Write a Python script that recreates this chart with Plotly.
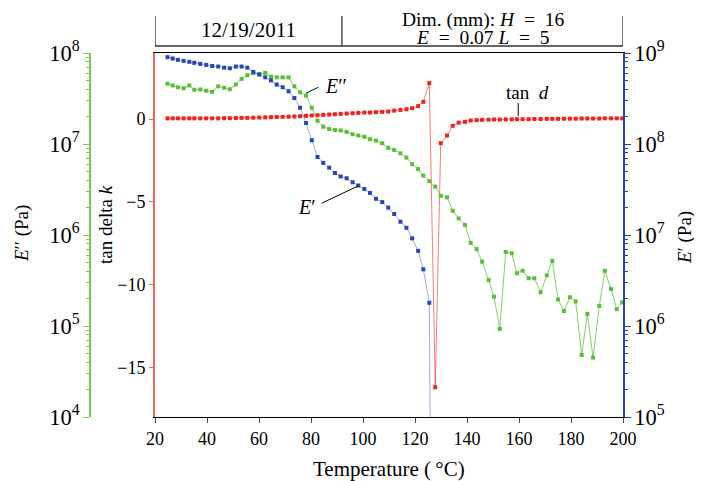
import plotly.graph_objects as go

# Temperature (deg C) of each measurement
temp = [24.8, 26.8, 28.8, 31.0, 33.2, 35.1, 37.4, 39.7, 42.0, 44.3,
        46.6, 48.8, 51.1, 53.3, 55.5, 57.8, 60.1, 62.4, 64.6, 66.8,
        69.1, 71.4, 73.6, 75.8, 78.1, 80.3, 82.5, 84.7, 87.0, 89.2,
        91.4, 93.7, 96.0, 98.2, 100.5, 102.7, 105.0, 107.4, 109.7, 112.0,
        114.4, 116.7, 118.9, 121.2, 123.2, 125.5, 127.8, 129.9, 132.3, 134.5,
        136.8, 139.2, 141.4, 143.7, 145.8, 148.3, 150.4, 152.6, 154.9, 157.2,
        159.2, 161.4, 163.7, 165.9, 168.3, 170.7, 172.8, 175.0, 177.3, 179.6,
        181.8, 184.1, 186.3, 188.5, 190.9, 193.0, 195.4, 197.6, 199.7]

# E' (Pa), right axis
storage_modulus = [9.0e8, 8.7e8, 8.4e8, 8.2e8, 8.0e8, 7.8e8, 7.6e8, 7.4e8, 7.2e8, 7.1e8,
                   6.9e8, 6.8e8, 7.1e8, 7.1e8, 6.9e8, 6.2e8, 5.8e8, 5.4e8, 5.0e8, 4.5e8,
                   4.2e8, 3.8e8, 3.2e8, 2.5e8, 1.7e8, 1.1e8, 7.2e7, 6.2e7, 5.5e7, 4.8e7,
                   4.4e7, 4.2e7, 3.8e7, 3.5e7, 3.2e7, 2.9e7, 2.5e7, 2.3e7, 2.0e7, 1.7e7,
                   1.4e7, 1.2e7, 9.2e6, 6.7e6, 4.2e6, 1.8e6, 1e-3]

# E'' (Pa), left outer axis
loss_modulus = [4.6e7, 4.4e7, 4.2e7, 4.1e7, 4.4e7, 3.95e7, 3.97e7, 3.85e7, 3.75e7, 4.3e7,
                4.15e7, 4.0e7, 4.5e7, 5.2e7, 5.7e7, 6.0e7, 5.9e7, 6.05e7, 5.5e7, 5.4e7,
                5.4e7, 5.4e7, 4.3e7, 3.7e7, 3.4e7, 2.5e7, 1.8e7, 1.55e7, 1.46e7, 1.43e7,
                1.41e7, 1.36e7, 1.28e7, 1.24e7, 1.20e7, 1.13e7, 1.09e7, 1.02e7, 9.1e6, 8.6e6,
                7.9e6, 7.1e6, 6.0e6, 5.3e6, 4.5e6, 3.9e6, 3.4e6, 2.7e6, 2.6e6, 1.85e6,
                1.52e6, 1.29e6, 8.2e5, 7.0e5, 5.1e5, 3.2e5, 2.1e5, 9.3e4, 6.5e5, 6.3e5,
                3.8e5, 4.05e5, 3.35e5, 3.35e5, 2.35e5, 3.6e5, 5.2e5, 1.96e5, 1.46e5, 2.07e5,
                1.86e5, 4.8e4, 1.36e5, 4.5e4, 1.66e5, 4.05e5, 2.55e5, 1.53e5, 1.82e5]

# tan delta, inner left axis
tan_delta = [0.05, 0.05, 0.05, 0.05, 0.05, 0.05, 0.05, 0.05, 0.05, 0.05,
             0.06, 0.06, 0.07, 0.08, 0.08, 0.09, 0.10, 0.11, 0.12, 0.13,
             0.14, 0.15, 0.16, 0.18, 0.20, 0.22, 0.24, 0.26, 0.28, 0.30,
             0.32, 0.34, 0.36, 0.38, 0.40, 0.40, 0.42, 0.44, 0.46, 0.52,
             0.56, 0.60, 0.66, 0.79, 1.05, 2.18, -16.2, -1.45, -0.99, -0.40,
             -0.21, -0.16, -0.08, -0.06, -0.04, -0.03, -0.02, -0.02, -0.01, -0.01,
             0.0, 0.0, 0.0, 0.01, 0.01, 0.02, 0.02, 0.02, 0.03, 0.03,
             0.03, 0.04, 0.04, 0.04, 0.04, 0.05, 0.05, 0.05, 0.05]

x_ticks = [20, 40, 60, 80, 100, 120, 140, 160, 180, 200]
tan_ticks = [0, -5, -10, -15]

FONT = "Liberation Serif"
BLUE = "#2b45b4"
GREEN = "#5cbc3c"
RED = "#ee2424"
GREEN_AX = "#7cc75a"
RED_AX = "#f26464"
BLUE_AX = "#2c40a8"

# the page body adds an 8px offset; positions below are in page pixels minus 8
FW, FH = 694, 473
ML, MR, MT, MB = 52, 79, 45, 64
W = FW - ML - MR           # 563
H = FH - MT - MB           # 364
X0 = (147 - ML) / W        # plot area starts at page x = 155
GREEN_POS = (82 - ML) / W  # green axis at page x = 90


def py(page_y):
    return (FH - MB - (page_y - 8)) / H


def px(page_x):
    return (page_x - 8 - ML) / W


fig = go.Figure()
fig.add_trace(go.Scatter(
    x=temp[:len(loss_modulus)], y=loss_modulus, yaxis="y2", mode="lines+markers",
    marker=dict(symbol="square", size=4, color=GREEN),
    line=dict(color="rgba(92,188,60,0.75)", width=1)))
fig.add_trace(go.Scatter(
    x=temp[:len(storage_modulus)], y=storage_modulus, yaxis="y3", mode="lines+markers",
    marker=dict(symbol="square", size=4, color=BLUE),
    line=dict(color="rgba(43,69,180,0.45)", width=1)))
fig.add_trace(go.Scatter(
    x=temp[:len(tan_delta)], y=tan_delta, yaxis="y", mode="lines+markers",
    marker=dict(symbol="square", size=4, color=RED),
    line=dict(color="rgba(238,36,36,0.6)", width=1)))

tickfont = dict(family=FONT, size=18, color="black")

fig.update_layout(
    width=FW, height=FH,
    margin=dict(l=ML, r=MR, t=MT, b=MB),
    paper_bgcolor="white", plot_bgcolor="white",
    showlegend=False,
    font=dict(family=FONT, size=18, color="black"),
    xaxis=dict(domain=[X0, 1], range=[20, 200], tickvals=x_ticks,
               ticks="outside", ticklen=5, tickcolor="#444",
               showline=True, linecolor="black", linewidth=1.2, mirror=True,
               showgrid=False, zeroline=False, tickfont=tickfont),
    yaxis=dict(range=[-18, 4], tickvals=tan_ticks, ticks="outside", ticklen=4,
               tickcolor=RED_AX, showline=True, linecolor=RED_AX, linewidth=2,
               showgrid=False, zeroline=False, tickfont=tickfont),
    yaxis2=dict(type="log", range=[4, 8], dtick=1, exponentformat="power",
                overlaying="y", anchor="free", position=GREEN_POS, side="left",
                ticks="outside", ticklen=6, tickcolor=GREEN_AX,
                showline=True, linecolor=GREEN_AX, linewidth=1.5,
                minor=dict(dtick="D1", ticks="outside", ticklen=3, tickcolor=GREEN_AX),
                showgrid=False, zeroline=False, tickfont=tickfont),
    yaxis3=dict(type="log", range=[5, 9], dtick=1, exponentformat="power",
                overlaying="y", anchor="x", side="right",
                ticks="outside", ticklen=6, tickcolor=BLUE_AX,
                showline=True, linecolor=BLUE_AX, linewidth=1.5,
                minor=dict(dtick="D1", ticks="outside", ticklen=3, tickcolor=BLUE_AX),
                showgrid=False, zeroline=False, tickfont=tickfont),
)

# header table above the plot
hdr = dict(color="#333", width=1.3)
y_lo, y_hi = py(46), py(16)
for xv in (20, 91.9, 200):
    fig.add_shape(type="line", xref="x", yref="paper", x0=xv, x1=xv, y0=y_lo, y1=y_hi, line=hdr)
fig.add_shape(type="line", xref="x", yref="paper", x0=20, x1=200, y0=y_lo, y1=y_lo, line=hdr)

C = dict(showarrow=False, xanchor="center", yanchor="middle")
SP = "\u2002"
ann = []
ann.append(dict(x=55.8, y=py(30), xref="x", yref="paper", text="12/19/2011",
                font=dict(size=21), **C))
ann.append(dict(x=146.2, y=py(19.5), xref="x", yref="paper",
                text=f"Dim. (mm): <i>H</i>{SP}={SP}16", font=dict(size=19.5), **C))
ann.append(dict(x=146.2, y=py(38), xref="x", yref="paper",
                text=f"<i>E</i>{SP}={SP}0.07 <i>L</i>{SP}={SP}5", font=dict(size=19.5), **C))

# curve labels with leader lines
lead = dict(color="black", width=1)
fig.add_shape(type="line", xref="x", yref="y", x0=78.1, y0=1.57, x1=82.8, y1=1.93, line=lead)
ann.append(dict(x=89.6, y=2.01, xref="x", yref="y", text="<i>E</i>′′",
                font=dict(size=20), **C))
fig.add_shape(type="line", xref="x", yref="y", x0=84.1, y0=-5.08, x1=98.2, y1=-4.03, line=lead)
ann.append(dict(x=78.5, y=-5.30, xref="x", yref="y", text="<i>E</i>′",
                font=dict(size=20), **C))
fig.add_shape(type="line", xref="x", yref="y", x0=159.7, y0=0.97, x1=159.7, y1=0.2, line=lead)
ann.append(dict(x=163.1, y=1.59, xref="x", yref="y", text="tan  <i>d</i>",
                font=dict(size=19), **C))

# axis titles
ann.append(dict(x=px(22), y=py(234), xref="paper", yref="paper", text="<i>E</i>′′ (Pa)",
                textangle=-90, font=dict(size=19), **C))
ann.append(dict(x=px(105), y=py(225), xref="paper", yref="paper", text="tan delta <i>k</i>",
                textangle=-90, font=dict(size=19), **C))
ann.append(dict(x=px(685), y=py(238), xref="paper", yref="paper", text="<i>E</i>′ (Pa)",
                textangle=-90, font=dict(size=19), **C))
ann.append(dict(x=px(389), y=py(469), xref="paper", yref="paper",
                text="Temperature (\u2009°C)", font=dict(size=21), **C))
fig.update_layout(annotations=ann)

fig.write_html("out.html")
